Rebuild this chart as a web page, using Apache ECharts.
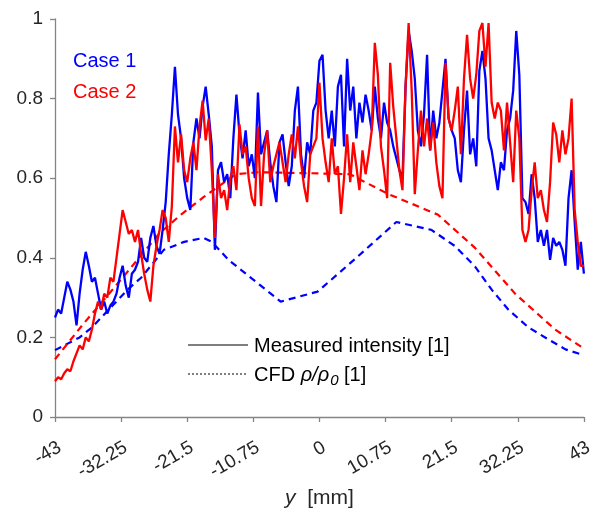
<!DOCTYPE html>
<html>
<head>
<meta charset="utf-8">
<script src="https://cdn.jsdelivr.net/npm/echarts@6/dist/echarts.min.js"></script>
<style>html,body{margin:0;padding:0;background:#fff}#c{width:596px;height:514px}</style>
</head>
<body>
<div id="c"></div>
<script>
// sampling grid of the measured profiles (mm)
const sampleStart = -43;
const sampleStep = 0.5;

// Case 1 measured intensity (blue), one value per 0.5 mm from -43 to 43
const case1Measured = [
0.25,0.27,0.26,0.30,0.34,0.32,0.29,0.23,0.31,0.37,
0.415,0.38,0.34,0.35,0.31,0.27,0.29,0.26,0.28,0.29,
0.31,0.35,0.38,0.33,0.30,0.36,0.37,0.39,0.45,0.40,
0.39,0.45,0.48,0.43,0.41,0.47,0.54,0.66,0.76,0.88,
0.76,0.70,0.60,0.55,0.52,0.69,0.75,0.70,0.78,0.83,
0.76,0.68,0.42,0.62,0.64,0.59,0.61,0.55,0.70,0.81,
0.71,0.65,0.72,0.63,0.66,0.60,0.815,0.66,0.69,0.72,
0.64,0.58,0.54,0.69,0.71,0.64,0.58,0.63,0.77,0.83,
0.66,0.60,0.69,0.66,0.77,0.79,0.895,0.91,0.77,0.70,
0.77,0.68,0.83,0.86,0.68,0.90,0.77,0.83,0.70,0.79,
0.74,0.81,0.77,0.72,0.83,0.75,0.70,0.79,0.74,0.72,
0.68,0.65,0.62,0.60,0.83,0.97,0.92,0.85,0.72,0.68,
0.76,0.91,0.67,0.77,0.70,0.74,0.82,0.90,0.75,0.72,
0.70,0.62,0.59,0.72,0.82,0.66,0.70,0.63,0.87,0.92,
0.85,0.70,0.67,0.62,0.57,0.64,0.62,0.72,0.75,0.82,
0.97,0.86,0.55,0.54,0.51,0.61,0.55,0.44,0.47,0.43,
0.47,0.395,0.45,0.43,0.44,0.42,0.38,0.55,0.62,0.49,
0.37,0.44,0.36
];

// Case 2 measured intensity (red), same grid
const case2Measured = [
0.09,0.10,0.095,0.11,0.12,0.115,0.14,0.16,0.18,0.17,
0.20,0.19,0.22,0.26,0.29,0.27,0.31,0.30,0.35,0.34,
0.40,0.46,0.52,0.49,0.46,0.47,0.44,0.47,0.41,0.36,
0.32,0.29,0.38,0.43,0.47,0.52,0.50,0.44,0.53,0.73,
0.64,0.71,0.62,0.59,0.65,0.69,0.62,0.73,0.795,0.695,
0.75,0.62,0.45,0.61,0.55,0.57,0.52,0.60,0.63,0.57,
0.735,0.66,0.68,0.60,0.55,0.53,0.73,0.53,0.66,0.72,
0.59,0.63,0.66,0.69,0.64,0.59,0.66,0.71,0.65,0.73,
0.64,0.58,0.54,0.66,0.68,0.70,0.84,0.70,0.64,0.59,
0.70,0.61,0.63,0.51,0.60,0.71,0.59,0.69,0.63,0.57,
0.67,0.61,0.66,0.72,0.94,0.86,0.68,0.62,0.55,0.89,
0.78,0.70,0.62,0.57,0.83,0.99,0.82,0.56,0.67,0.77,
0.68,0.75,0.67,0.74,0.64,0.58,0.55,0.89,0.75,0.72,
0.77,0.83,0.66,0.85,0.96,0.85,0.80,0.86,0.97,0.99,
0.88,0.99,0.79,0.75,0.79,0.77,0.67,0.79,0.69,0.59,
0.77,0.70,0.47,0.44,0.47,0.57,0.64,0.55,0.57,0.52,
0.49,0.59,0.74,0.71,0.64,0.72,0.66,0.70,0.80,0.52,
0.44,0.38,0.38
];

// CFD rho/rho0 profiles (dashed)
const cfd1X = [-43,-39,-37,-31.2,-29,-27.4,-25.3,-22,-18.8,-17.5,-14.8,-6.3,-0.3,6,12.5,18.2,22,25.3,28,30.7,34,37.2,40,43];
const cfd1Y = [0.168,0.20,0.225,0.32,0.35,0.38,0.42,0.44,0.45,0.44,0.395,0.29,0.315,0.40,0.49,0.47,0.43,0.378,0.32,0.27,0.225,0.195,0.17,0.155];
const cfd2X = [-43,-38.6,-33.1,-26.1,-22.4,-18.8,-13.6,-10,0,5,6.8,11.2,12.8,19.3,25.3,31.8,38.3,43];
const cfd2Y = [0.145,0.23,0.33,0.46,0.51,0.553,0.61,0.615,0.612,0.61,0.595,0.56,0.55,0.508,0.425,0.31,0.22,0.172];

const xTicks = [-43,-32.25,-21.5,-10.75,0,10.75,21.5,32.25,43];
const yTicks = [0,0.2,0.4,0.6,0.8,1];

function pairs(ys){ return ys.map((v,i)=>[sampleStart + i*sampleStep, v]); }
function zip(xs, ys){ return xs.map((x,i)=>[x, ys[i]]); }

const BLUE = '#0000ff', RED = '#ff0000';
const FONT = 'Liberation Sans, Arial, sans-serif';
const AXC = '#858585', TXT = '#262626';

const chart = echarts.init(document.getElementById('c'), null, {renderer:'canvas'});
chart.setOption({
  animation:false,
  backgroundColor:'#ffffff',
  grid:{left:55, right:10, top:19, bottom:97, containLabel:false},
  xAxis:{
    type:'value', min:xTicks[0], max:xTicks[xTicks.length-1], interval:10.75,
    axisLine:{show:true, onZero:false, lineStyle:{color:AXC, width:1.3}},
    axisTick:{show:true, inside:false, length:5, lineStyle:{color:AXC, width:1.3}},
    splitLine:{show:false},
    axisLabel:{rotate:30, margin:21, fontSize:19, color:TXT, fontFamily:FONT,
      align:'right', verticalAlign:'top', formatter:v=>String(v)},
    name:'{i|y}  [mm]', nameLocation:'middle', nameGap:67,
    nameTextStyle:{fontSize:21, color:TXT, fontFamily:FONT,
      rich:{i:{fontStyle:'italic', fontSize:21, color:TXT, fontFamily:FONT}}}
  },
  yAxis:{
    type:'value', min:yTicks[0], max:yTicks[yTicks.length-1], interval:0.2,
    axisLine:{show:true, onZero:false, lineStyle:{color:AXC, width:1.3}},
    axisTick:{show:true, inside:false, length:5, lineStyle:{color:AXC, width:1.3}},
    splitLine:{show:false},
    axisLabel:{fontSize:19, color:TXT, fontFamily:FONT, margin:12,
      formatter:v=>String(Math.round(v*10)/10)}
  },
  series:[
    {name:'Case 1 CFD', type:'line', data:zip(cfd1X,cfd1Y), showSymbol:false,
      lineStyle:{color:BLUE, width:2.2, type:[7,5]}, z:2},
    {name:'Case 2 CFD', type:'line', data:zip(cfd2X,cfd2Y), showSymbol:false,
      lineStyle:{color:RED, width:2.2, type:[7,5]}, z:2},
    {name:'Case 1', type:'line', data:pairs(case1Measured), showSymbol:false,
      lineStyle:{color:BLUE, width:2.3}, z:3},
    {name:'Case 2', type:'line', data:pairs(case2Measured), showSymbol:false,
      lineStyle:{color:RED, width:2.3}, z:4}
  ],
  graphic:[
    {type:'text', x:73, y:61, style:{text:'Case 1', fill:BLUE, font:'20px '+FONT, verticalAlign:'middle'}},
    {type:'text', x:73, y:92, style:{text:'Case 2', fill:RED, font:'20px '+FONT, verticalAlign:'middle'}},
    {type:'line', shape:{x1:188, y1:345, x2:248, y2:345}, style:{stroke:'#000', lineWidth:1}},
    {type:'line', shape:{x1:188, y1:374, x2:248, y2:374}, style:{stroke:'#000', lineWidth:1, lineDash:[2,2]}},
    {type:'text', x:254, y:346, style:{text:'Measured intensity [1]', fill:'#000', font:'20px '+FONT, verticalAlign:'middle'}},
    {type:'text', x:254, y:375, style:{
      text:'CFD {it|ρ/ρ}{sub|0} [1]', fill:'#000', font:'20px '+FONT, verticalAlign:'middle',
      rich:{it:{fontStyle:'italic', fontSize:20, fontFamily:FONT, fill:'#000'},
            sub:{fontStyle:'italic', fontSize:15, fontFamily:FONT, fill:'#000', padding:[12,0,0,1]}}}}
  ]
});
</script>
</body>
</html>
